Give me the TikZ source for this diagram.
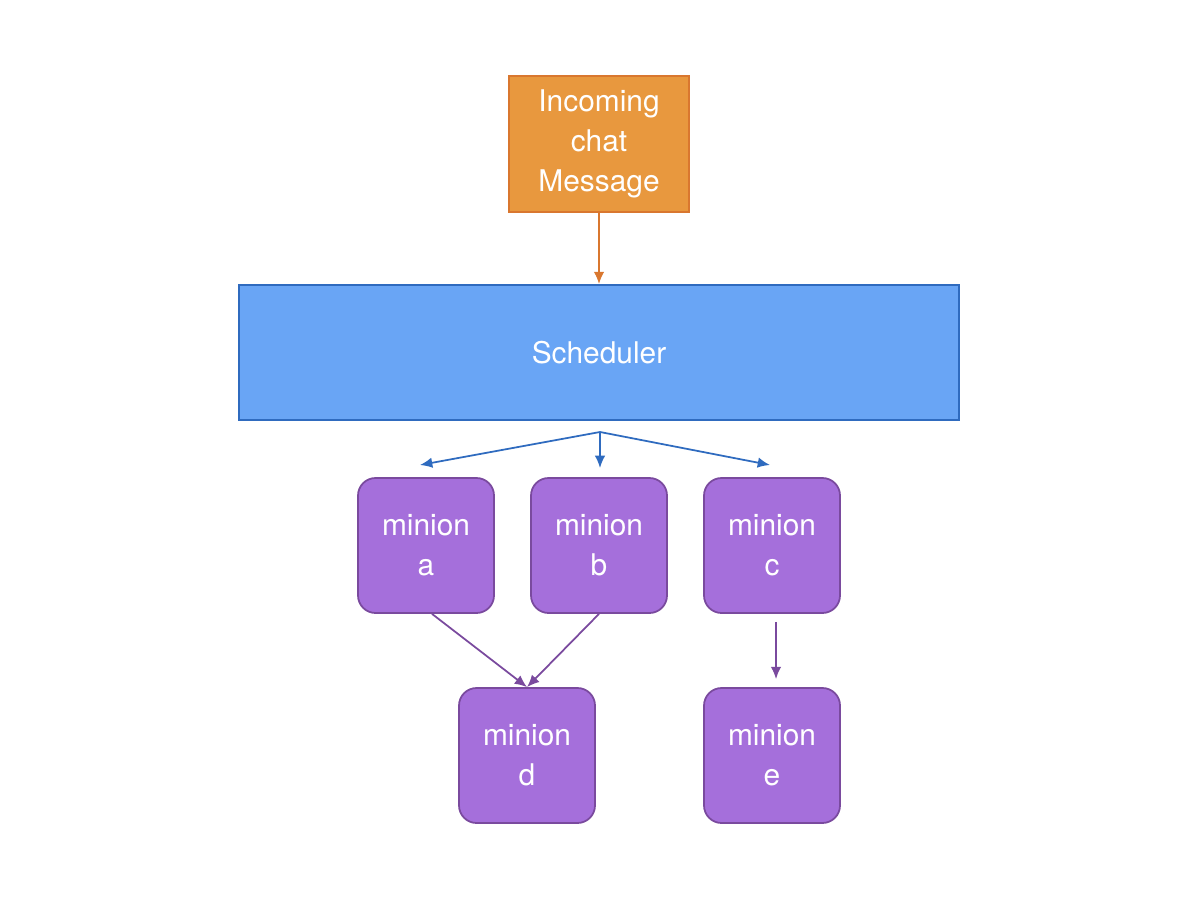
\documentclass[tikz,border=0pt]{standalone}
\usepackage{fontspec}
\setmainfont{TeX Gyre Heros}
\usetikzlibrary{arrows.meta}
\definecolor{msgfill}{HTML}{E8983E}
\definecolor{msgline}{HTML}{D9772F}
\definecolor{schedfill}{HTML}{69A5F5}
\definecolor{schedline}{HTML}{2F6BBF}
\definecolor{minfill}{HTML}{A56FDB}
\definecolor{minline}{HTML}{7A4A9E}
\tikzset{
  box/.style = {draw, line width=1pt, text=white, align=center, inner sep=0pt,
    font=\fontsize{17}{22.7}\selectfont},
  minion/.style = {box, fill=minfill, draw=minline, rounded corners=10pt,
    minimum width=2.72cm, minimum height=2.7cm},
  arr/.style = {-{Latex[length=7pt,width=6pt]}, line width=1pt}
}
\begin{document}
\begin{tikzpicture}
  \useasboundingbox (0,0) rectangle (24,18);
  \node[box, fill=msgfill, draw=msgline, minimum width=3.6cm, minimum height=2.72cm](message) at (11.98,15.12) {Incoming\\chat\\Message};
  \node[box, fill=schedfill, draw=schedline, minimum width=14.4cm, minimum height=2.7cm](scheduler) at (11.98,10.95) {Scheduler};

  \node[minion](minionA) at (8.52,7.09) {minion\\a};
  \node[minion](minionB) at (11.98,7.09) {minion\\b};
  \node[minion](minionC) at (15.44,7.09) {minion\\c};
  \node[minion](minionD) at (10.54,2.89) {minion\\d};
  \node[minion](minionE) at (15.44,2.89) {minion\\e};

  \coordinate (split) at (12,9.36);
  \coordinate (toA) at (8.4,8.7);
  \coordinate (toB) at (12,8.64);
  \coordinate (toC) at (15.4,8.7);

  \draw[arr, draw=msgline] (message.south) -- (scheduler.north);
  \draw[arr, draw=schedline] (split) -- (toA);
  \draw[arr, draw=schedline] (split) -- (toB);
  \draw[arr, draw=schedline] (split) -- (toC);

  \draw[arr, draw=minline] ([xshift=0.12cm]minionA.south) -- (minionD.north);
  \draw[arr, draw=minline] (minionB.south) -- (minionD.north);
  \draw[arr, draw=minline] ([xshift=0.08cm,yshift=-0.16cm]minionC.south) -- ([xshift=0.08cm,yshift=0.16cm]minionE.north);
\end{tikzpicture}
\end{document}
